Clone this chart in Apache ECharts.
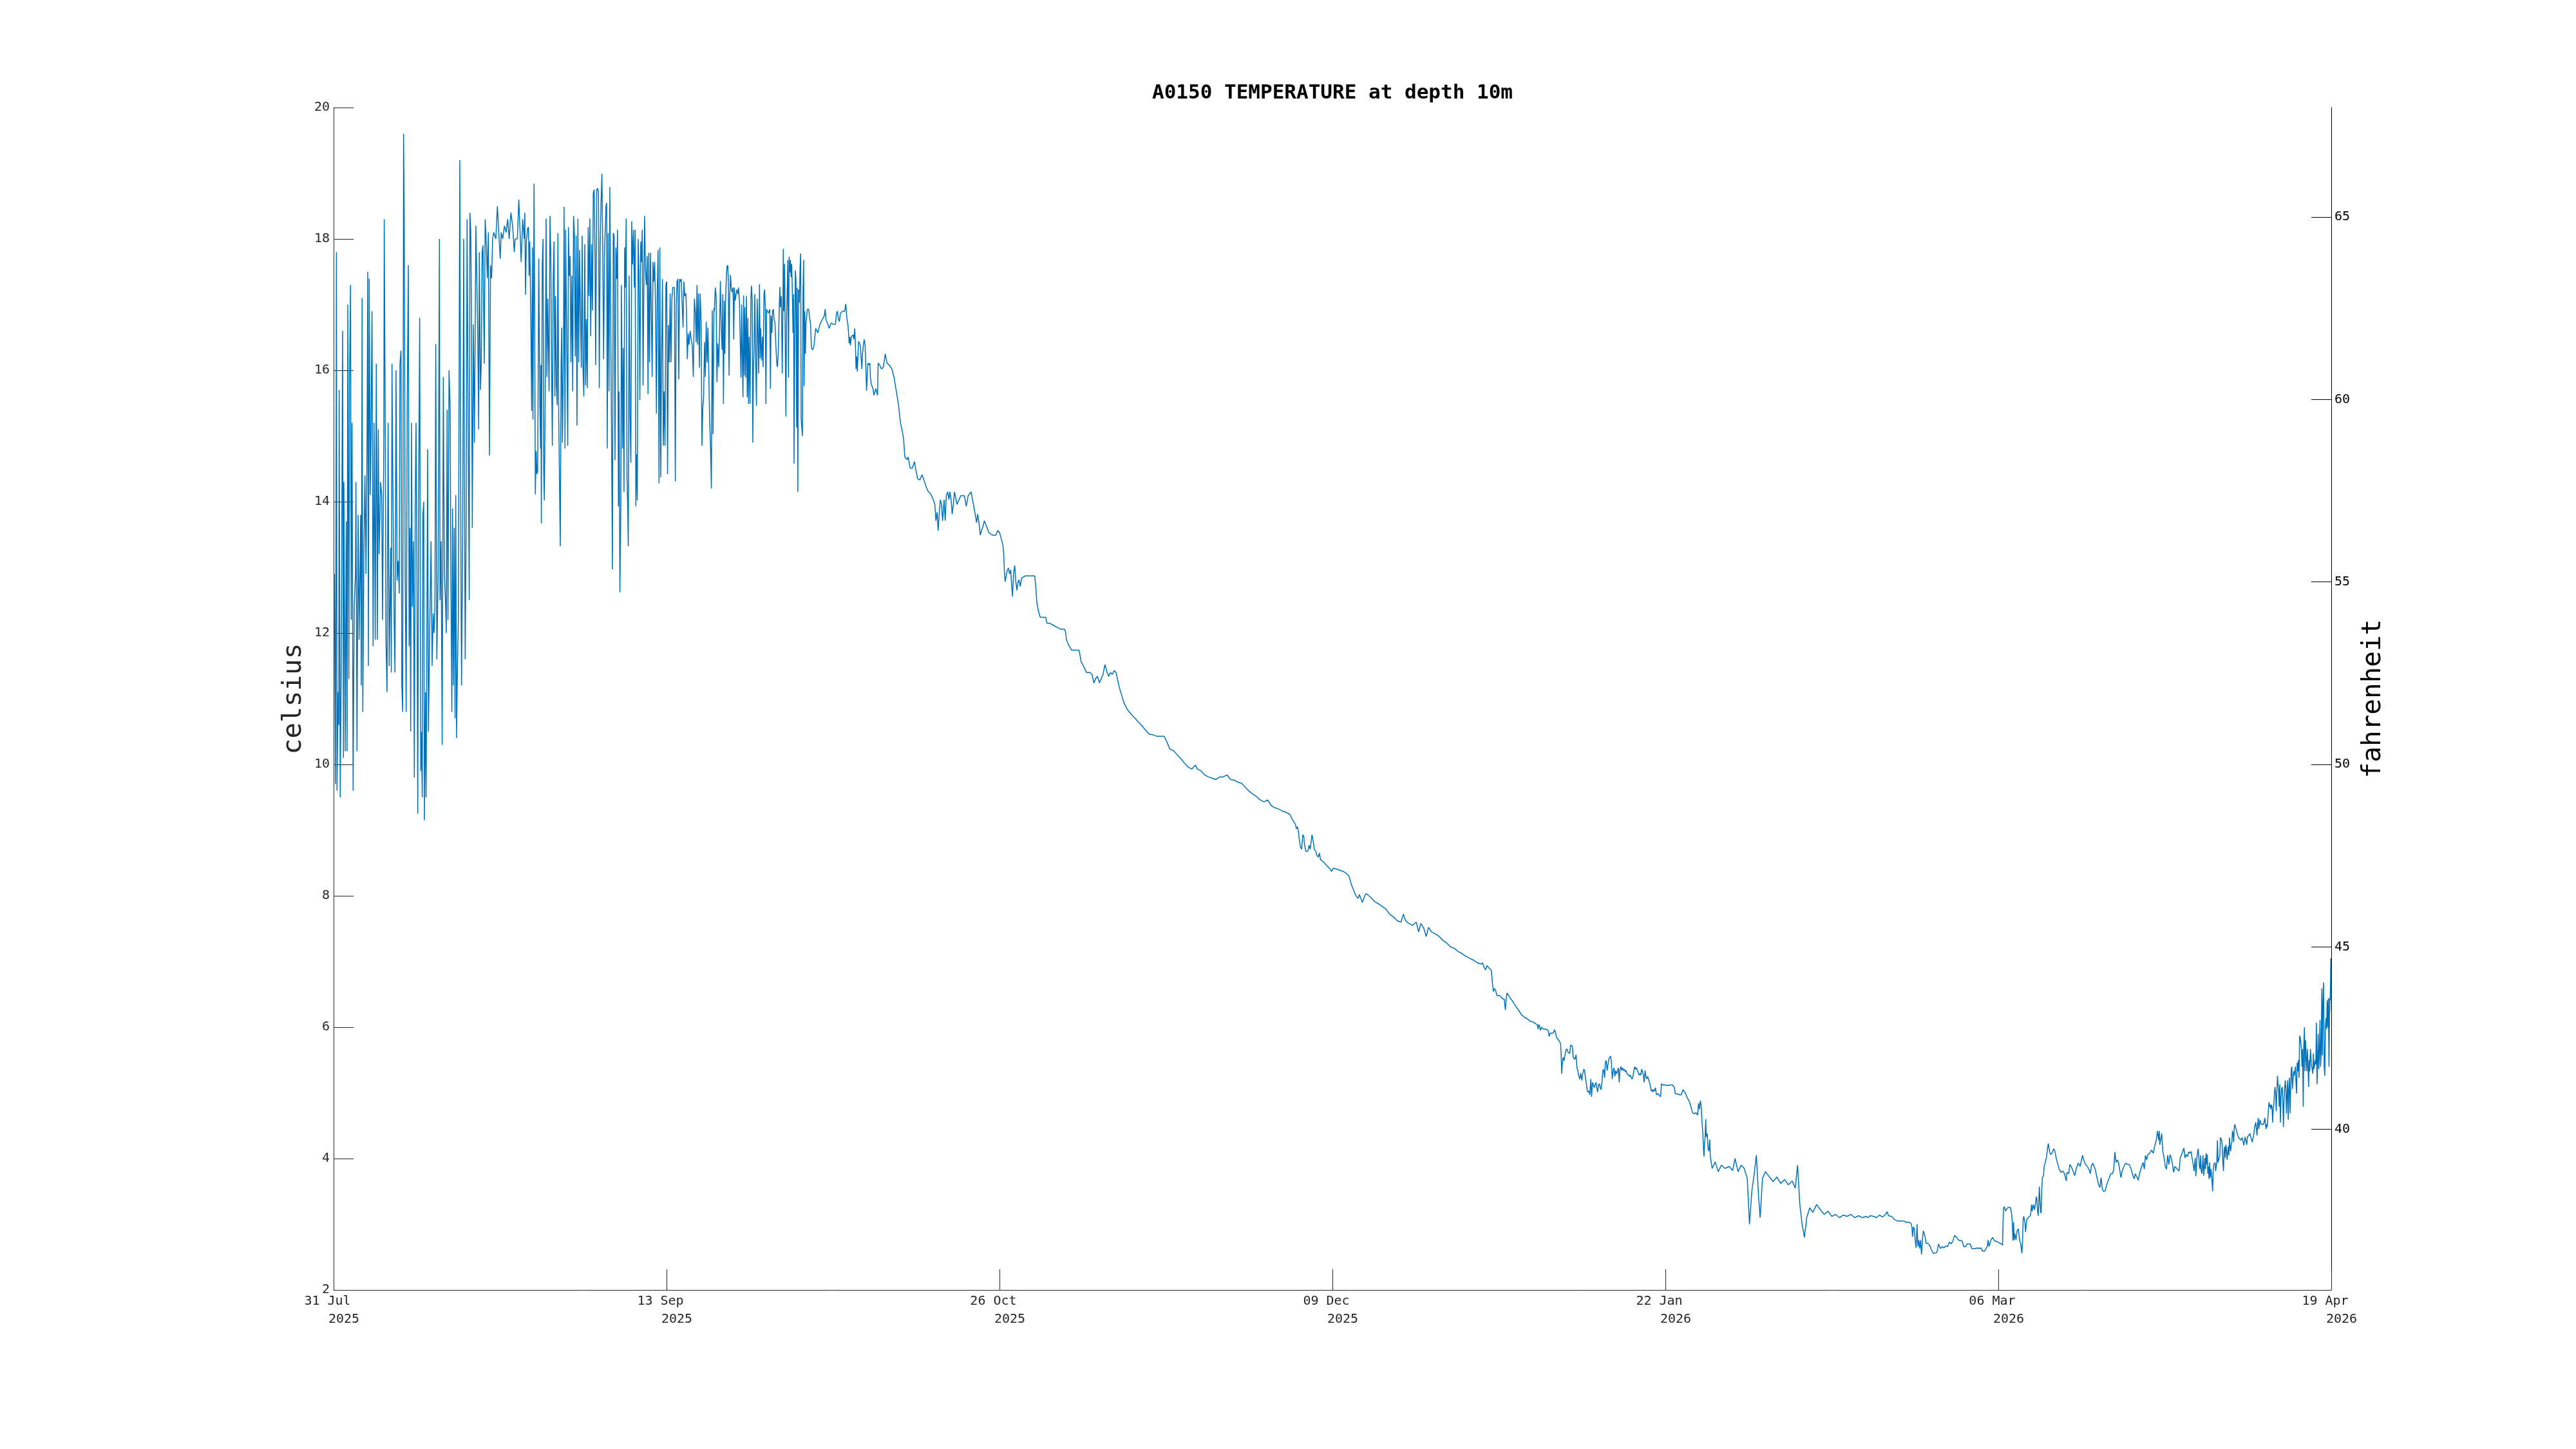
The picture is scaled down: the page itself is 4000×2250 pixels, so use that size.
<!DOCTYPE html>
<html>
<head>
<meta charset="utf-8">
<script src="https://cdn.jsdelivr.net/npm/echarts@6/dist/echarts.min.js"></script>
<style>html,body{margin:0;padding:0;background:#fff;}#chart{width:4000px;height:2250px;}</style>
</head>
<body>
<div id="chart"></div>
<script>
// Time is expressed as days since 31 Jul 2025 00:00; values are °C at 10 m depth.
const titleText = 'A0150 TEMPERATURE at depth 10m';
const xTickDays = [0, 43.667, 87.333, 131, 174.667, 218.333, 262];
const xTickDates = ['31 Jul', '13 Sep', '26 Oct', '09 Dec', '22 Jan', '06 Mar', '19 Apr'];
const xTickYears = ['2025', '2025', '2025', '2025', '2026', '2026', '2026'];
const fahrenheitTicks = [40, 45, 50, 55, 60, 65];

const summerA = [[0.11,12.9],[0.25,9.7],[0.37,17.8],[0.45,9.6],[0.59,11.1],[0.68,10.6],[0.73,15.7],[0.87,9.5],[1.01,11.6],[1.18,16.6],[1.29,10.1],[1.35,14.3],[1.52,10.2],[1.66,13.7],[1.77,10.2],[1.86,17.0],[2.0,11.3],[2.08,15.8],[2.22,17.3],[2.31,12.2],[2.42,15.2],[2.56,9.6],[2.7,12.4],[2.87,12.9],[2.93,14.3],[3.07,10.2],[3.21,13.8],[3.35,11.9],[3.55,13.8],[3.63,11.2],[3.74,17.1],[3.83,10.8],[3.97,13.2],[4.11,14.4],[4.25,12.9],[4.39,15.0],[4.48,17.5],[4.56,11.5],[4.67,17.4],[4.81,14.1],[4.9,15.0],[5.04,16.9],[5.18,11.8],[5.32,15.2],[5.46,11.9],[5.6,16.1],[5.74,11.9],[5.86,15.1],[5.97,13.2],[6.17,14.3],[6.31,14.1],[6.42,12.2],[6.59,15.0],[6.64,18.3],[6.78,15.0],[6.87,11.9],[7.01,11.1],[7.15,15.2],[7.29,11.5],[7.49,13.3],[7.57,11.4],[7.66,16.1],[7.77,14.3],[7.94,12.2],[8.05,11.4],[8.19,16.0],[8.33,12.8],[8.47,13.1],[8.61,12.6],[8.7,16.1],[8.84,16.3],[8.95,11.2],[9.06,10.8],[9.18,19.6],[9.26,18.4],[9.4,12.8],[9.52,10.8],[9.66,15.5],[9.8,17.6],[9.91,11.8],[10.02,13.6],[10.11,10.5],[10.22,15.2],[10.33,12.4],[10.47,13.4],[10.59,9.8],[10.7,13.8],[10.81,15.2],[10.92,13.2],[11.04,9.25],[11.15,14.0],[11.29,16.8],[11.43,9.9],[11.51,10.5],[11.63,9.5],[11.71,13.8],[11.82,14.0],[11.91,9.15],[12.05,11.1],[12.13,9.5],[12.22,11.5],[12.33,14.8],[12.44,10.5],[12.61,12.1],[12.78,13.4],[12.92,11.5],[13.06,12.3],[13.17,12.0],[13.29,12.4],[13.4,16.4],[13.54,11.6],[13.71,12.9],[13.88,18.0],[13.96,12.5],[14.1,13.4],[14.24,10.3],[14.39,15.9],[14.53,12.9],[14.67,12.5],[14.78,12.0],[14.89,15.4],[15.0,12.2],[15.14,16.0],[15.29,15.4],[15.37,13.1],[15.51,10.8],[15.6,13.9],[15.71,11.2],[15.82,13.6],[15.93,10.7],[16.02,14.1],[16.13,10.4],[16.22,11.3],[16.36,12.2],[16.44,15.0],[16.55,19.2],[16.69,13.4],[16.78,11.2],[16.92,13.3],[17.06,18.0],[17.14,14.8],[17.26,11.6],[17.37,13.4],[17.51,18.3],[17.62,15.7],[17.79,12.5],[17.88,18.4],[17.99,18.1],[18.07,17.0],[18.19,13.6],[18.33,16.7],[18.47,14.9],[18.66,18.2],[18.75,17.6],[18.89,16.7],[19.03,15.1],[19.11,17.8],[19.26,15.7],[19.37,16.1],[19.48,17.8],[19.59,17.9],[19.76,16.1],[19.88,18.3],[20.04,17.9],[20.16,17.4],[20.3,18.1],[20.44,14.7],[20.58,17.6],[20.72,17.4],[20.86,18.0],[21.0,18.1],[21.14,18.1],[21.28,18.0],[21.48,18.5],[21.71,18.0],[21.85,17.7],[21.99,18.1],[22.18,18.0],[22.41,18.2],[22.63,18.1],[22.83,18.3],[23.03,18.0],[23.25,18.4],[23.48,18.2],[23.7,17.8]];

const summerB = [[23.81,18.0],[23.96,18.0],[24.1,18.0],[24.29,18.6],[24.43,18.2],[24.6,17.65],[24.8,18.3],[25.0,18.0],[25.08,18.4],[25.17,17.15],[25.28,17.96],[25.45,18.16],[25.56,18.18],[25.64,17.44],[25.73,17.96],[25.87,16.74],[25.98,15.38],[26.07,17.87],[26.15,15.25],[26.29,18.84],[26.38,16.56],[26.46,14.11],[26.57,14.77],[26.66,14.42],[26.77,14.46],[26.91,17.7],[27.05,15.47],[27.14,14.81],[27.19,16.08],[27.25,13.67],[27.36,17.57],[27.47,18.0],[27.56,14.46],[27.64,14.02],[27.76,15.68],[27.87,18.31],[27.98,15.9],[28.09,17.09],[28.26,15.68],[28.38,18.35],[28.49,17.74],[28.6,15.9],[28.69,14.85],[28.8,17.35],[28.91,17.96],[29.02,15.6],[29.11,17.13],[29.22,15.77],[29.33,15.47],[29.42,18.09],[29.53,15.25],[29.61,14.5],[29.73,13.32],[29.84,16.12],[29.92,16.65],[30.01,14.9],[30.15,16.3],[30.23,18.49],[30.35,14.81],[30.43,18.14],[30.57,16.56],[30.71,14.85],[30.8,18.18],[30.91,17.44],[31.02,17.74],[31.13,16.12],[31.25,17.44],[31.36,15.68],[31.47,18.35],[31.58,18.09],[31.7,16.21],[31.81,18.05],[31.92,15.16],[32.04,18.31],[32.15,16.12],[32.26,17.83],[32.37,16.91],[32.49,16.04],[32.6,18.05],[32.71,16.04],[32.82,15.6],[32.94,17.92],[33.05,15.77],[33.16,16.78],[33.27,15.73],[33.39,18.18],[33.5,17.13],[33.61,18.31],[33.72,16.52],[33.84,17.92],[33.95,16.91],[34.06,18.7],[34.17,18.75],[34.29,17.65],[34.37,16.08],[34.51,18.75],[34.63,18.77],[34.74,18.7],[34.85,15.73],[34.96,17.87],[35.08,18.57],[35.19,18.99],[35.3,17.87],[35.41,16.17],[35.53,17.79],[35.64,18.18],[35.72,18.49],[35.81,18.55],[35.89,14.81],[36.0,18.09],[36.12,15.68],[36.23,18.79],[36.37,16.39],[36.48,14.59],[36.57,12.97],[36.68,18.09],[36.79,18.05],[36.91,14.63],[37.02,17.87],[37.13,17.39],[37.24,18.14],[37.36,13.93],[37.44,15.68],[37.55,12.62],[37.67,13.93],[37.75,17.3],[37.89,14.81],[37.98,16.34],[38.09,14.15],[38.17,17.87],[38.26,17.26],[38.37,18.31],[38.48,14.37],[38.57,13.93],[38.65,13.32],[38.76,17.44],[38.88,15.25],[38.99,14.59],[39.1,18.27],[39.21,17.61],[39.33,18.14],[39.44,17.26],[39.55,18.14],[39.64,13.93],[39.72,14.72],[39.83,14.02],[39.95,18.0],[40.06,17.44],[40.17,15.55],[40.28,17.96],[40.4,17.65],[40.48,18.14],[40.59,15.77],[40.71,17.57],[40.79,18.35],[40.9,17.52],[41.02,17.3],[41.13,17.74],[41.24,15.64],[41.33,17.79],[41.44,16.12],[41.55,17.79],[41.66,17.0],[41.78,15.9],[41.89,17.65],[42.0,17.35],[42.11,17.65],[42.23,16.95],[42.34,15.34],[42.45,17.22],[42.56,17.83],[42.68,14.28],[42.79,17.87],[42.9,14.37],[43.01,16.12],[43.13,17.39],[43.24,14.85],[43.35,15.68],[43.47,14.85],[43.58,17.3],[43.69,17.35],[43.8,14.42],[43.92,16.69],[44.03,16.12],[44.14,17.17],[44.25,16.12],[44.37,17.09],[44.48,17.26],[44.59,17.26],[44.7,17.26],[44.82,14.31],[44.93,17.0],[45.04,17.35],[45.15,17.39],[45.27,15.86],[45.38,17.39],[45.49,17.35],[45.6,17.39],[45.72,17.39],[45.83,16.65],[45.94,17.35],[46.06,17.13],[46.2,17.17],[46.28,16.91],[46.39,16.17],[46.51,16.56],[46.62,16.39],[46.76,16.6],[46.9,16.47],[47.04,16.39],[47.18,15.9],[47.32,17.09],[47.46,16.87],[47.55,16.43],[47.66,17.3],[47.74,16.39],[47.86,17.17],[47.97,16.04],[48.08,17.17],[48.2,16.74],[48.31,14.85],[48.42,15.42],[48.53,15.6],[48.65,16.43],[48.76,15.9],[48.87,16.74],[48.99,16.12],[49.1,16.65],[49.21,15.95],[49.32,15.25],[49.44,14.81],[49.55,14.2],[49.66,16.91],[49.77,15.03],[49.88,16.95]];

const autumnC = [[49.94,16.9],[50.06,17.26],[50.17,17.13],[50.28,15.82],[50.39,16.41],[50.51,16.05],[50.62,16.64],[50.73,17.36],[50.84,16.64],[50.96,16.31],[51.04,17.16],[51.13,15.49],[51.24,17.06],[51.32,16.25],[51.41,17.06],[51.52,17.45],[51.6,17.58],[51.69,17.6],[51.77,17.39],[51.86,15.92],[51.94,17.06],[52.05,17.45],[52.17,17.23],[52.28,17.19],[52.39,17.26],[52.48,16.47],[52.56,17.26],[52.67,17.06],[52.79,17.16],[52.9,17.23],[53.01,17.16],[53.12,17.26],[53.24,17.0],[53.32,16.51],[53.43,15.89],[53.52,17.0],[53.6,16.25],[53.69,15.59],[53.77,17.14],[53.86,15.92],[53.94,16.96],[54.05,15.89],[54.14,17.13],[54.25,15.59],[54.33,16.8],[54.42,15.49],[54.5,16.51],[54.62,15.49],[54.73,17.09],[54.81,17.29],[54.9,17.06],[54.98,14.9],[55.07,16.05],[55.15,16.34],[55.24,17.16],[55.35,16.18],[55.46,15.46],[55.55,17.09],[55.63,16.74],[55.74,15.95],[55.86,17.31],[55.94,16.18],[56.02,16.64],[56.14,16.15],[56.25,16.51],[56.33,16.05],[56.45,17.16],[56.53,17.23],[56.62,16.96],[56.7,15.49],[56.78,16.93],[56.9,16.9],[57.01,16.87],[57.12,16.9],[57.21,16.93],[57.29,15.72],[57.38,16.83],[57.49,16.57],[57.57,16.9],[57.68,16.93],[57.77,16.77],[57.88,16.74],[58.02,16.34],[58.14,16.08],[58.22,16.05],[58.33,16.31],[58.44,16.9],[58.53,17.27],[58.61,16.96],[58.73,17.13],[58.84,15.95],[58.92,16.83],[58.98,17.85],[59.06,16.9],[59.15,17.62],[59.23,16.51],[59.32,15.3],[59.4,16.77],[59.49,17.19],[59.57,17.68],[59.66,15.89],[59.74,17.73],[59.83,17.49],[59.91,17.68],[59.99,17.42],[60.08,17.62],[60.16,17.23],[60.25,16.57],[60.33,17.16],[60.39,14.58],[60.47,16.25],[60.56,17.52],[60.64,17.39],[60.73,15.13],[60.81,17.26],[60.89,14.15],[60.98,17.23],[61.09,17.03],[61.18,17.57],[61.26,17.78],[61.32,15.27],[61.4,15.13],[61.49,15.0],[61.57,17.23],[61.65,17.68],[61.71,15.76],[61.79,16.9],[61.88,16.25],[61.96,16.74],[62.05,16.83],[62.13,16.93],[62.3,16.93],[62.47,16.77],[62.56,16.7],[62.67,16.34],[62.84,16.31],[63.01,16.38],[63.12,16.51],[63.23,16.64],[63.51,16.57],[63.79,16.7],[64.08,16.77],[64.36,16.83],[64.47,16.93],[64.58,16.77],[64.84,16.7],[64.98,16.64],[65.26,16.72],[65.54,16.7],[65.82,16.7],[65.96,16.87],[66.07,16.9],[66.19,16.8],[66.33,16.74],[66.47,16.87],[66.75,16.9],[67.03,16.9],[67.17,17.01],[67.26,16.87],[67.34,16.77],[67.45,16.7],[67.54,16.57],[67.62,16.41],[67.71,16.51],[67.79,16.38],[67.9,16.51],[68.13,16.54],[68.24,16.47],[68.35,16.64],[68.44,16.38],[68.52,16.02],[68.61,16.21],[68.69,15.98],[68.78,16.25],[68.86,16.44],[69.09,16.38],[69.2,16.38],[69.28,16.02],[69.37,16.25],[69.48,16.38],[69.59,16.47],[69.71,16.38],[69.82,15.98],[69.9,15.69],[69.99,15.92],[70.07,16.11],[70.24,16.08],[70.33,16.11],[70.41,15.89],[70.52,15.79],[70.75,15.72],[70.86,15.62],[71.11,15.72],[71.34,15.62],[71.42,16.11],[71.62,16.08],[71.85,16.02],[72.1,16.05],[72.35,16.25],[72.58,16.11],[72.94,16.07],[73.23,16.02],[73.51,15.89],[73.79,15.69],[74.07,15.49],[74.35,15.2],[74.63,15.04],[74.77,14.94],[74.91,14.68],[75.2,14.64],[75.34,14.68],[75.62,14.51],[75.9,14.51],[76.18,14.61],[76.32,14.51],[76.6,14.35],[76.89,14.33],[77.17,14.41],[77.45,14.32],[77.73,14.22],[78.01,14.15],[78.29,14.12],[78.43,14.09],[78.71,14.01]];

const autumnD = [[78.85,13.96],[79.0,13.71],[79.15,13.84],[79.29,13.56],[79.44,13.84],[79.58,14.03],[79.73,13.96],[79.87,13.71],[80.07,14.03],[80.21,13.71],[80.36,14.09],[80.55,14.15],[80.7,14.03],[80.84,14.15],[80.99,14.03],[81.13,13.81],[81.28,13.96],[81.43,14.15],[81.76,13.96],[82.25,14.09],[82.73,14.09],[82.98,13.93],[83.22,14.09],[83.61,14.15],[83.8,14.03],[84.0,13.9],[84.19,13.78],[84.33,13.68],[84.48,13.81],[84.67,13.65],[84.82,13.49],[84.97,13.56],[85.16,13.62],[85.35,13.71],[85.55,13.65],[85.94,13.53],[86.37,13.49],[86.86,13.49],[87.1,13.56],[87.34,13.53],[87.58,13.43],[87.78,13.34],[87.88,13.21],[87.97,12.96],[88.07,12.78],[88.21,12.87],[88.36,12.96],[88.51,12.99],[88.65,12.9],[88.8,12.96],[88.94,12.71],[89.04,12.56],[89.18,12.9],[89.33,13.03],[89.48,12.78],[89.62,12.65],[89.77,12.78],[89.91,12.81],[90.06,12.71],[90.25,12.84],[90.74,12.87],[91.22,12.87],[91.71,12.87],[91.95,12.87],[92.09,12.71],[92.24,12.46],[92.43,12.34],[92.68,12.24],[93.16,12.24],[93.4,12.24],[93.55,12.15],[93.89,12.15],[94.37,12.12],[94.86,12.09],[95.34,12.06],[95.83,12.06],[95.97,12.03],[96.12,11.9],[96.31,11.84],[96.8,11.74],[97.28,11.74],[97.77,11.74],[97.91,11.65],[98.06,11.56],[98.25,11.52],[98.5,11.46],[98.74,11.4],[99.22,11.4],[99.47,11.37],[99.71,11.24],[99.95,11.31],[100.19,11.34],[100.44,11.24],[100.68,11.31],[100.92,11.37],[101.16,11.52],[101.31,11.46],[101.45,11.4],[101.65,11.34],[101.89,11.4],[102.13,11.37],[102.38,11.43],[102.62,11.4],[102.86,11.27],[103.1,11.15],[103.35,11.06],[103.59,10.96],[104.07,10.84],[104.56,10.77],[105.04,10.71],[105.53,10.65],[106.01,10.59],[106.5,10.52],[106.98,10.46],[107.47,10.45],[107.95,10.43],[108.44,10.43],[108.92,10.43],[109.17,10.37],[109.41,10.31],[109.65,10.24],[110.13,10.21],[110.62,10.15],[111.1,10.09],[111.59,10.02],[112.07,9.96],[112.56,9.93],[112.8,9.96],[113.05,9.99],[113.29,9.93],[113.77,9.9],[114.26,9.84],[114.74,9.81],[115.23,9.79],[115.71,9.77],[116.2,9.81],[116.68,9.81],[117.17,9.84],[117.65,9.77],[118.14,9.76],[118.62,9.73],[119.11,9.71],[119.59,9.65],[120.08,9.59],[120.56,9.55],[121.05,9.51],[121.53,9.46],[122.02,9.43],[122.5,9.46],[122.99,9.37],[123.47,9.34],[123.96,9.32],[124.44,9.29],[124.93,9.27],[125.41,9.24],[125.8,9.15],[126.14,9.09],[126.28,9.02],[126.43,9.05],[126.53,8.99],[126.67,8.84],[126.82,8.74],[126.96,8.71],[127.11,8.93],[127.25,8.9],[127.35,8.77],[127.5,8.68],[127.79,8.68],[127.93,8.77],[128.08,8.71],[128.22,8.71],[128.32,8.93],[128.47,8.84],[128.61,8.71],[128.81,8.68],[128.95,8.62],[129.15,8.59],[129.29,8.65],[129.44,8.55],[129.78,8.52],[130.26,8.46],[130.75,8.4],[130.89,8.37],[131.09,8.42],[131.47,8.41],[131.96,8.39],[132.44,8.37],[132.93,8.33],[133.17,8.3],[133.32,8.24],[133.46,8.18],[133.66,8.12],[133.9,8.05],[134.14,7.99],[134.38,7.96],[134.53,8.02],[134.72,7.96],[134.92,7.9],[135.11,7.96],[135.35,8.03],[135.6,8.02],[136.08,7.97],[136.56,7.91]];

const lateAutumnE = [[137.0,7.88],[137.5,7.84],[138.0,7.8],[138.5,7.72],[139.0,7.68],[139.5,7.62],[140.0,7.6],[140.3,7.72],[140.6,7.62],[141.0,7.58],[141.5,7.55],[142.0,7.6],[142.3,7.45],[142.6,7.58],[143.0,7.5],[143.3,7.38],[143.6,7.52],[144.0,7.45],[144.5,7.42],[145.0,7.38],[145.5,7.32],[146.0,7.28],[146.5,7.22],[147.0,7.2],[147.5,7.15],[148.0,7.12],[148.5,7.08],[149.0,7.05],[149.5,7.02],[150.0,6.98]];

const winterF = [[150.51,6.96],[150.7,6.98],[150.89,6.91],[151.08,6.87],[151.26,6.94],[151.45,6.91],[151.64,6.89],[151.83,6.87],[151.9,6.78],[152.02,6.63],[152.13,6.54],[152.25,6.59],[152.4,6.56],[152.58,6.48],[152.96,6.48],[153.34,6.43],[153.53,6.43],[153.68,6.26],[153.79,6.43],[153.9,6.52],[154.28,6.45],[154.66,6.39],[155.03,6.32],[155.41,6.26],[155.79,6.19],[156.17,6.15],[156.54,6.13],[156.92,6.09],[157.3,6.08],[157.67,6.05],[157.86,6.04],[157.98,5.97],[158.05,6.04],[158.16,6.02],[158.28,5.95],[158.43,6.0],[158.65,5.97],[158.99,5.97],[159.3,5.95],[159.41,5.86],[159.56,5.91],[159.94,5.91],[160.13,5.96],[160.24,5.93],[160.39,5.84],[160.54,5.82],[160.69,5.8],[160.92,5.75],[160.99,5.6],[161.07,5.29],[161.14,5.43],[161.26,5.54],[161.37,5.49],[161.48,5.56],[161.63,5.65],[161.75,5.67],[161.9,5.62],[162.12,5.6],[162.24,5.73],[162.35,5.74],[162.46,5.71],[162.58,5.54],[162.8,5.51],[162.95,5.58],[163.07,5.38],[163.18,5.34],[163.33,5.25],[163.44,5.21],[163.56,5.3],[163.71,5.19],[163.82,5.29],[163.97,5.36],[164.08,5.34],[164.2,5.21],[164.31,5.14],[164.42,5.03],[164.54,5.01],[164.65,5.03],[164.76,4.97],[164.88,5.21],[164.99,4.94],[165.1,5.16],[165.22,5.12],[165.33,5.08],[165.44,5.12],[165.56,5.16],[165.67,5.08],[165.78,5.01],[165.89,5.12],[166.01,5.14],[166.12,5.08],[166.23,5.05],[166.35,5.16],[166.46,5.34],[166.57,5.36],[166.69,5.23],[166.8,5.47],[166.91,5.49],[167.03,5.34],[167.14,5.43],[167.25,5.51],[167.37,5.54],[167.48,5.56],[167.59,5.47],[167.7,5.21],[167.82,5.34],[167.93,5.38],[168.04,5.25],[168.16,5.34],[168.27,5.29],[168.38,5.32],[168.5,5.38],[168.61,5.16],[168.72,5.36],[168.84,5.4],[168.95,5.34],[169.06,5.38],[169.18,5.34],[169.29,5.36],[169.4,5.32],[169.51,5.34],[169.63,5.29],[169.74,5.3],[169.85,5.27],[169.97,5.25],[170.08,5.27],[170.19,5.23],[170.31,5.21],[170.42,5.25],[170.53,5.34],[170.65,5.4],[170.76,5.36],[170.87,5.38],[170.99,5.34],[171.1,5.32],[171.21,5.27],[171.32,5.29],[171.44,5.27],[171.55,5.36],[171.66,5.32],[171.78,5.27],[171.89,5.16],[172.0,5.34],[172.12,5.25],[172.23,5.21],[172.34,5.25],[172.46,5.21],[172.57,5.16],[172.68,5.12],[172.8,5.03],[172.91,5.05],[173.02,5.01],[173.13,5.05],[173.25,5.03],[173.36,5.08],[173.47,4.99],[173.59,4.97],[173.7,4.99],[173.81,4.97],[173.93,4.97],[174.04,4.94],[174.15,5.14],[174.27,5.12],[174.49,5.12],[174.72,5.12],[174.94,5.11],[175.17,5.12],[175.4,5.12],[175.62,5.12],[175.85,5.08],[175.96,4.99],[176.08,4.99],[176.3,4.98],[176.53,4.97],[176.75,4.97],[176.98,5.05],[177.09,5.05],[177.21,5.01],[177.32,4.99],[177.43,4.99],[177.55,4.92],[177.66,4.9],[177.77,4.88],[177.89,4.84],[178.0,4.84],[178.11,4.75],[178.22,4.7],[178.34,4.69],[178.45,4.68],[178.56,4.67],[178.68,4.7],[178.79,4.69],[178.9,4.66],[179.02,4.84],[179.13,4.75],[179.24,4.88],[179.36,4.81],[179.47,4.55],[179.58,4.38],[179.66,4.16],[179.73,4.03],[179.81,4.24],[179.88,4.33],[179.96,4.6],[180.03,4.33],[180.15,4.38],[180.26,4.16],[180.37,4.11],[180.49,4.29],[180.56,4.03]];

const winterG = [[180.8,3.85],[181.2,3.95],[181.6,3.8],[182.0,3.9],[182.5,3.85],[183.0,3.88],[183.5,3.82],[183.8,4.0],[184.2,3.8],[184.6,3.9],[185.0,3.85],[185.4,3.7],[185.7,3.0],[186.0,3.5],[186.3,3.75],[186.6,4.05],[186.9,3.4],[187.1,3.1],[187.4,3.7],[187.8,3.8],[188.3,3.72],[188.8,3.65],[189.3,3.72],[189.8,3.62],[190.3,3.68],[190.8,3.6],[191.3,3.66],[191.7,3.55],[192.0,3.9],[192.3,3.3],[192.6,3.0],[192.9,2.8],[193.2,3.1],[193.6,3.25],[194.0,3.18],[194.5,3.3],[195.0,3.22],[195.5,3.15],[196.0,3.2],[196.5,3.12],[197.0,3.15],[197.5,3.1],[198.0,3.14],[198.5,3.12],[199.0,3.15],[199.5,3.1],[200.0,3.13],[200.5,3.1],[201.0,3.12]];

const springH = [[201.18,3.1],[201.57,3.13],[201.97,3.12],[202.36,3.1],[202.75,3.14],[203.15,3.11],[203.54,3.15],[203.74,3.19],[203.93,3.13],[204.33,3.12],[204.72,3.07],[205.11,3.05],[205.51,3.05],[205.9,3.05],[206.29,3.03],[206.69,3.03],[206.88,3.01],[207.0,2.96],[207.08,2.81],[207.2,2.96],[207.31,2.93],[207.43,2.75],[207.55,2.64],[207.67,3.0],[207.79,2.66],[207.9,2.76],[208.02,2.63],[208.14,2.76],[208.26,2.54],[208.38,2.76],[208.49,2.9],[208.61,2.9],[208.73,2.81],[208.85,2.71],[209.08,2.71],[209.32,2.68],[209.56,2.61],[209.79,2.56],[210.03,2.56],[210.26,2.57],[210.5,2.7],[210.74,2.63],[210.97,2.66],[211.21,2.64],[211.44,2.67],[211.68,2.66],[211.92,2.73],[212.15,2.7],[212.39,2.75],[212.51,2.8],[212.62,2.83],[212.86,2.8],[213.09,2.76],[213.33,2.75],[213.57,2.75],[213.8,2.66],[214.04,2.66],[214.27,2.7],[214.39,2.71],[214.63,2.7],[214.87,2.63],[215.1,2.63],[215.34,2.63],[215.57,2.64],[215.81,2.63],[216.04,2.64],[216.28,2.59],[216.52,2.59],[216.75,2.63],[216.87,2.66],[216.99,2.76],[217.11,2.66],[217.34,2.75],[217.58,2.8],[217.81,2.75],[218.05,2.74],[218.29,2.73],[218.52,2.71],[218.76,2.7],[218.88,2.68],[218.95,3.03],[219.03,3.24],[219.11,3.27],[219.27,3.2],[219.47,3.24],[219.7,3.26],[219.94,3.25],[220.06,3.17],[220.17,3.03],[220.25,2.75],[220.33,3.03],[220.41,2.76],[220.49,2.86],[220.65,2.76],[220.8,2.9],[220.96,2.93],[221.12,2.76],[221.27,2.7],[221.43,2.56],[221.51,2.76],[221.59,3.07],[221.67,3.12],[221.82,3.03],[221.9,2.88],[222.06,3.07],[222.22,3.1],[222.38,3.1],[222.53,3.13],[222.61,3.2],[222.69,3.3],[222.77,3.2],[222.93,3.3],[223.08,3.22],[223.24,3.34],[223.32,3.42],[223.4,3.37],[223.48,3.2],[223.56,3.13],[223.63,3.3],[223.71,3.57],[223.79,3.37],[223.87,3.19],[223.95,3.17],[224.03,3.54],[224.11,3.71],[224.26,3.74],[224.34,3.88],[224.5,3.94],[224.66,4.03],[224.81,4.18],[224.89,4.23],[225.05,4.1],[225.21,4.06],[225.36,4.08],[225.6,4.15],[225.76,4.11],[225.91,4.01],[226.07,3.94],[226.31,3.84],[226.54,3.79],[226.78,3.81],[227.01,3.77],[227.17,3.69],[227.25,3.66],[227.33,3.79],[227.57,3.77],[227.72,3.91],[227.96,3.86],[228.2,3.79],[228.35,3.74],[228.59,3.86],[228.82,3.93],[229.06,3.88],[229.3,4.01],[229.38,4.05],[229.53,3.98],[229.77,3.91],[230.0,3.88],[230.24,3.83],[230.4,3.77],[230.55,3.89],[230.71,3.93],[230.87,3.94],[231.03,3.84],[231.18,3.76],[231.34,3.67],[231.5,3.6],[231.66,3.56],[231.81,3.71],[231.97,3.54],[232.13,3.5],[232.36,3.51],[232.52,3.59],[232.68,3.65],[232.84,3.69],[233.07,3.77],[233.31,3.77],[233.47,3.84],[233.62,4.1],[233.78,3.94],[233.94,3.98],[234.1,3.94],[234.25,3.94],[234.41,3.71],[234.57,3.81],[234.8,3.88],[235.04,3.93],[235.27,3.91],[235.51,3.91],[235.75,3.84],[235.9,3.77],[236.14,3.69],[236.3,3.77],[236.45,3.77],[236.69,3.67],[236.85,3.77],[237.08,3.86],[237.32,3.94],[237.48,3.84],[237.63,4.05],[237.79,3.98],[237.95,4.06],[238.18,4.08],[238.42,4.13],[238.66,4.08],[238.81,4.18],[239.05,4.28],[239.13,4.35],[239.21,4.42],[239.36,4.28],[239.44,4.42],[239.52,4.21],[239.76,4.38],[239.91,4.11],[240.07,4.01],[240.23,3.88],[240.39,3.84],[240.54,4.05],[240.7,3.91],[240.86,4.06],[241.01,4.01],[241.17,3.91],[241.33,3.79],[241.49,3.88],[241.64,3.89],[241.8,3.84],[242.04,3.81],[242.19,4.01],[242.35,4.05],[242.51,4.06],[242.67,4.16],[242.82,4.01],[242.98,4.06],[243.14,4.03],[243.3,4.1],[243.45,4.08],[243.61,4.11],[243.77,3.99],[243.93,3.88],[244.0,3.81],[244.08,3.91],[244.16,4.01],[244.24,3.73],[244.32,3.88],[244.4,4.05],[244.55,4.15],[244.71,3.88],[244.79,3.84],[244.87,4.05],[244.95,3.81],[245.03,3.77],[245.1,3.88],[245.18,4.05],[245.26,3.74],[245.34,3.84],[245.42,4.01],[245.5,3.84],[245.58,4.08],[245.66,3.91],[245.74,4.06],[245.81,3.77],[245.89,3.88],[245.97,3.69],[246.05,3.94],[246.13,3.71],[246.21,3.84],[246.29,3.77],[246.36,3.64],[246.44,3.5],[246.52,3.84],[246.6,3.91],[246.76,3.94],[246.83,3.81],[246.99,3.94],[247.07,4.28],[247.15,3.94],[247.31,3.94],[247.39,4.05],[247.46,4.32],[247.62,4.28],[247.7,4.18],[247.78,3.94],[247.86,3.81],[247.94,4.11],[248.02,4.18],[248.09,4.01],[248.17,4.21],[248.25,4.15],[248.33,3.98],[248.41,4.08],[248.49,4.18],[248.57,4.05],[248.65,4.32],[248.72,4.18],[248.8,4.11],[248.88,4.21],[248.96,4.25],[249.04,4.42],[249.12,4.38],[249.2,4.25],[249.28,4.48],[249.35,4.52],[249.51,4.45],[249.67,4.38],[249.83,4.32],[249.98,4.33],[250.14,4.28],[250.3,4.32],[250.45,4.25],[250.53,4.2],[250.69,4.33],[250.85,4.25],[250.92,4.21],[251.0,4.33],[251.16,4.35],[251.32,4.38],[251.48,4.38],[251.63,4.25],[251.79,4.33],[251.95,4.48],[252.1,4.55],[252.18,4.45],[252.26,4.35],[252.34,4.52],[252.42,4.62],[252.5,4.45],[252.65,4.59],[252.81,4.52],[252.97,4.53],[253.13,4.52],[253.28,4.62],[253.44,4.45],[253.52,4.52],[253.6,4.48],[253.68,4.62],[253.76,4.75],[253.84,4.86],[253.91,4.79],[253.99,4.82],[254.07,4.75],[254.15,4.82],[254.23,4.79],[254.31,4.55],[254.39,4.75],[254.47,4.82],[254.54,4.99],[254.62,5.09],[254.7,4.99],[254.78,4.72],[254.86,4.99],[254.94,5.26],[255.02,5.13],[255.09,5.06],[255.17,4.79],[255.25,5.13],[255.33,4.55],[255.41,4.92],[255.49,5.06],[255.57,5.09],[255.65,4.89],[255.72,4.48],[255.8,4.86],[255.88,5.06],[255.96,5.19],[256.04,5.06],[256.12,4.69],[256.2,4.99],[256.27,5.19],[256.35,4.59],[256.43,5.06],[256.51,5.23],[256.59,4.69],[256.67,5.06],[256.75,5.36],[256.82,5.4],[256.9,5.06],[256.98,5.19],[257.06,5.33],[257.14,5.26],[257.22,5.33],[257.3,5.4],[257.38,5.13],[257.45,4.99],[257.53,5.46],[257.61,5.33],[257.69,5.5],[257.77,5.23],[257.85,5.87],[257.93,5.84],[258.0,5.77],[258.08,5.67],[258.16,5.4],[258.24,5.67],[258.32,4.79],[258.4,5.73],[258.48,6.0],[258.55,5.33],[258.63,5.8],[258.71,5.53],[258.79,5.33],[258.87,5.67],[258.95,5.4],[259.03,5.09],[259.1,5.5],[259.18,5.33],[259.26,5.67],[259.34,5.53],[259.42,5.4],[259.5,5.36],[259.58,5.29],[259.65,5.6],[259.73,5.36],[259.81,5.43],[259.89,5.5],[259.97,5.43],[260.05,6.07],[260.13,5.13],[260.21,5.46],[260.28,5.9],[260.36,5.36],[260.44,5.6],[260.52,6.11],[260.6,5.4],[260.68,5.63],[260.76,6.59],[260.83,5.57],[260.91,6.41],[260.99,6.68],[261.07,5.4],[261.15,5.26],[261.23,6.0],[261.31,6.14],[261.38,5.97],[261.46,6.41],[261.54,6.0],[261.62,6.44],[261.7,5.4],[261.78,6.44],[261.86,6.41],[261.94,7.05],[262.0,6.24]];

const temperatureSeries = [].concat(summerA, summerB, autumnC, autumnD, lateAutumnE, winterF, winterG, springH);

const FONT = 'DejaVu Sans Mono';
const AXIS_COLOR = '#262626';

const chart = echarts.init(document.getElementById('chart'), null, {renderer: 'canvas', width: 4000, height: 2250});

function xLabel(value) {
  let idx = 0, best = Infinity;
  for (let i = 0; i < xTickDays.length; i++) {
    const d = Math.abs(xTickDays[i] - value);
    if (d < best) { best = d; idx = i; }
  }
  return '{a|' + xTickDates[idx] + '}\n{b|' + xTickYears[idx] + '}';
}

chart.setOption({
  animation: false,
  backgroundColor: '#ffffff',
  title: {
    text: titleText,
    left: 2069,
    textAlign: 'center',
    top: 129,
    padding: 0,
    textStyle: {fontFamily: FONT, fontWeight: 'bold', fontSize: 31, color: '#000000'}
  },
  grid: {left: 518, right: 380, top: 167, bottom: 247, containLabel: false},
  xAxis: {
    type: 'value',
    min: 0,
    max: 262,
    splitLine: {show: false},
    axisLine: {show: true, onZero: false, lineStyle: {color: AXIS_COLOR, width: 1}},
    axisTick: {show: true, inside: true, length: 32, customValues: xTickDays, lineStyle: {color: AXIS_COLOR, width: 1}},
    axisLabel: {
      customValues: xTickDays,
      showMinLabel: true,
      showMaxLabel: true,
      margin: 4,
      formatter: xLabel,
      rich: {
        a: {fontFamily: FONT, fontSize: 20, color: AXIS_COLOR, lineHeight: 28, padding: [0, 19, 0, 0]},
        b: {fontFamily: FONT, fontSize: 20, color: AXIS_COLOR, lineHeight: 28, padding: [0, 0, 0, 32]}
      }
    }
  },
  yAxis: [
    {
      type: 'value',
      min: 2,
      max: 20,
      interval: 2,
      position: 'left',
      name: 'celsius',
      nameLocation: 'middle',
      nameGap: 35,
      nameTextStyle: {fontFamily: FONT, fontSize: 41, color: AXIS_COLOR},
      splitLine: {show: false},
      axisLine: {show: true, lineStyle: {color: AXIS_COLOR, width: 1}},
      axisTick: {show: true, inside: true, length: 31, lineStyle: {color: AXIS_COLOR, width: 1}},
      axisLabel: {fontFamily: FONT, fontSize: 20, color: AXIS_COLOR, margin: 6}
    },
    {
      type: 'value',
      min: 35.6,
      max: 68,
      position: 'right',
      name: 'fahrenheit',
      nameLocation: 'middle',
      nameGap: 45,
      nameTextStyle: {fontFamily: FONT, fontSize: 41, color: '#000000'},
      splitLine: {show: false},
      axisLine: {show: true, lineStyle: {color: '#000000', width: 1}},
      axisTick: {show: true, inside: true, length: 31, customValues: fahrenheitTicks, lineStyle: {color: '#000000', width: 1}},
      axisLabel: {customValues: fahrenheitTicks, fontFamily: FONT, fontSize: 20, color: '#000000', margin: 5}
    }
  ],
  series: [{
    type: 'line',
    xAxisIndex: 0,
    yAxisIndex: 0,
    data: temperatureSeries,
    showSymbol: false,
    symbol: 'none',
    lineStyle: {color: '#0072BD', width: 1.5},
    emphasis: {disabled: true}
  }]
});
</script>
</body>
</html>
